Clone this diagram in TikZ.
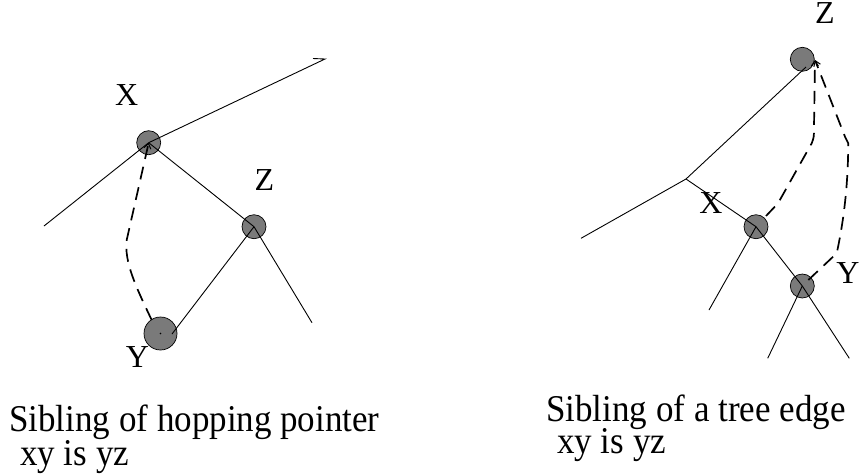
\documentclass[tikz,border=0pt]{standalone}
\usepackage{fontspec}
\setmainfont{Liberation Serif}
\usetikzlibrary{arrows.meta}
\definecolor{nodegray}{RGB}{122,122,122}
\tikzset{
  vert/.style={circle, draw=black, line width=0.7pt, fill=nodegray, inner sep=0pt, minimum size=#1},
  vert/.default=24pt,
  edge/.style={line width=0.9pt},
  hop/.style={line width=1.7pt, dash pattern=on 13pt off 8pt, -{Straight Barb[length=5pt,width=7pt,line width=1pt]}},
  lbl/.style={anchor=base, inner sep=0pt, font=\fontsize{32}{36}\selectfont},
  captext/.style={anchor=base west, inner sep=0pt, font=\fontsize{35}{40}\selectfont}
}
\newcommand{\tallcap}[1]{\scalebox{1}[1.08]{#1}}
\begin{document}
\begin{tikzpicture}[x=1pt,y=-1pt]
\useasboundingbox (0,0) rectangle (859,475);
% ---- left tree ----
\node[vert] (lX) at (148.7,142.7) {};
\node[vert] (lZ) at (254,226.7) {};
\node[vert=33pt] (lY) at (160.5,333.5) {};
\coordinate (lUR) at (325,59);
\coordinate (lUT) at (313,58.5);
\coordinate (lL) at (44,226);
\coordinate (lR) at (312,322.7);
\coordinate (lYe) at (172,334);
\coordinate (lYd) at (151.7,320);
\coordinate (lYdot) at (160.5,333.5);
\draw[edge] (lX.center) -- (lUR) -- (lUT);
\draw[edge] (lX.center) -- (lL);
\draw[edge] (lX.center) -- (lZ.center);
\draw[edge] (lZ.center) -- (lR);
\draw[edge] (lZ.center) -- (lYe);
\fill (lYdot) circle (0.9pt);
\draw[hop] (lYd) .. controls (136,287) and (124,262) .. (126.7,240) -- (lX.center);
\node[lbl] (tlX) at (126.7,105) {X};
\node[lbl] (tlZ) at (264.5,190) {Z};
\node[lbl] (tlY) at (137.5,367) {Y};
% ---- right tree ----
\node[vert] (rZ) at (802.3,59.3) {};
\node[vert] (rX) at (756,226.7) {};
\node[vert] (rY) at (802.3,286) {};
\coordinate (rJ) at (686,179);
\coordinate (rZe) at (806,67);
\coordinate (rL) at (581,238.3);
\coordinate (rXL) at (709,310);
\coordinate (rYL) at (767.7,358.3);
\coordinate (rYR) at (849.3,358.3);
\coordinate (tip) at (815,60);
\coordinate (rXd) at (766,216);
\coordinate (rYd) at (808.3,280);
\draw[edge] (rZe) -- (rJ);
\draw[edge] (rJ) -- (rL);
\draw[edge] (rJ) -- (rX.center) -- (rY.center);
\draw[edge] (rX.center) -- (rXL);
\draw[edge] (rY.center) -- (rYL);
\draw[edge] (rY.center) -- (rYR);
\draw[hop] (rXd) -- (778,203.3) -- (811.7,143.3) .. controls (814,137) .. (814,126.7) -- (tip);
\draw[hop] (rYd) -- (836.7,253.3) .. controls (845,215) and (848,180) .. (848.3,143.3) -- (845,136.7) -- (tip);
\node[lbl] (trZ) at (825,23.5) {Z};
\node[lbl] (trX) at (711,213) {X};
\node[lbl] (trY) at (848,283) {Y};
% ---- captions ----
\node[captext] (c1a) at (9,431.7) {\tallcap{Sibling of hopping pointer}};
\node[captext] (c1b) at (20,465) {\tallcap{xy is yz}};
\node[captext] (c2a) at (546,421.7) {\tallcap{Sibling of a tree edge}};
\node[captext] (c2b) at (557,453) {\tallcap{xy is yz}};
\end{tikzpicture}
\end{document}
